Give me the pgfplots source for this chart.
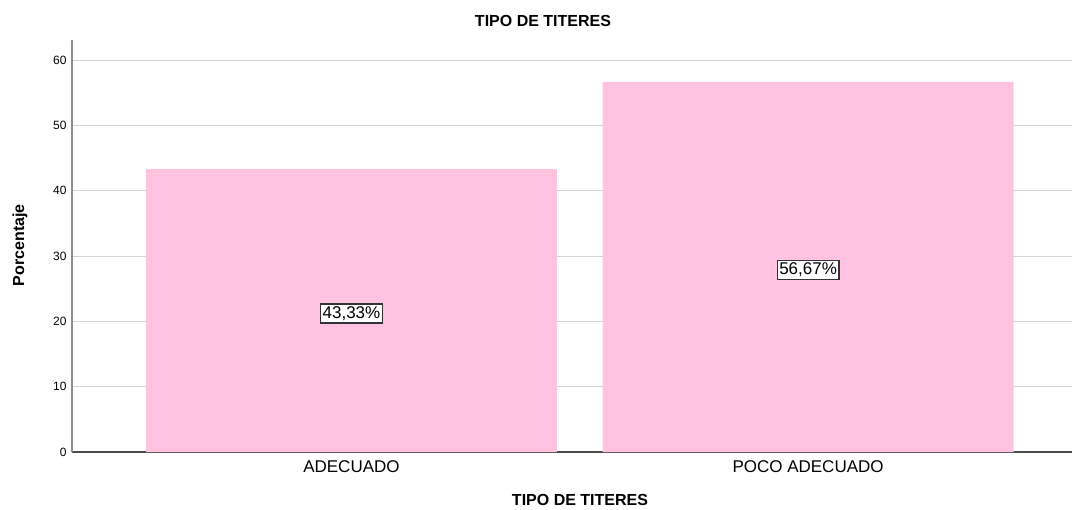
\documentclass[border=0pt]{standalone}
\usepackage{fontspec}
\setmainfont{Liberation Sans}
\usepackage{pgfplots}
\pgfplotsset{compat=1.18}
\definecolor{barpink}{RGB}{255,194,224}
\definecolor{gridgray}{RGB}{210,210,210}
\begin{document}
\begin{tikzpicture}
\begin{axis}[
    scale only axis,
    width=1000pt, height=412pt,
    at={(0,0)}, anchor=south west,
    xmin=-0.612, xmax=1.578,
    ymin=0, ymax=63.1,
    axis x line=bottom, axis y line=left,
    x axis line style={-, draw=black!70, line width=1.2pt},
    y axis line style={-, draw=black!45, line width=1.2pt},
    xtick={0,1}, xticklabels={ADECUADO, POCO ADECUADO},
    ytick={0,10,...,60},
    major tick length=0pt,
    ymajorgrids, grid style={gridgray, line width=1.2pt},
    /pgf/number format/assume math mode=true,
    yticklabel style={font=\fontsize{12}{14}\selectfont, xshift=-2pt},
    xticklabel style={font=\fontsize{17}{20}\selectfont, yshift=-5pt},
    xlabel={\textbf{TIPO DE TITERES}},
    ylabel={\textbf{Porcentaje}},
    xlabel style={font=\fontsize{16}{19}\selectfont, at={(0.508,-0.1165)}, anchor=center},
    ylabel style={font=\fontsize{16}{19}\selectfont, at={(-0.052,0.502)}, anchor=center},
    title={\textbf{TIPO DE TITERES}},
    title style={font=\fontsize{16}{19}\selectfont, at={(0.471,1)}, anchor=center, yshift=13pt},
    clip=false,
]
\addplot[ybar, bar width=0.9, fill=barpink, draw=none] coordinates {(0,43.33) (1,56.67)};
\addplot[draw=none, mark=none, nodes near coords, point meta=explicit symbolic,
    nodes near coords align=center,
    every node near coord/.style={fill=white, draw=black!80, line width=1.3pt,
      inner xsep=2pt, inner ysep=2.5pt, yshift=-3pt, font=\fontsize{17}{20}\selectfont, anchor=center}]
  coordinates {(0,21.665) [{43,33\%}] (1,28.335) [{56,67\%}]};
\end{axis}
\path[use as bounding box] (-72pt,-57pt) rectangle (1003pt,452pt);
\end{tikzpicture}
\end{document}
